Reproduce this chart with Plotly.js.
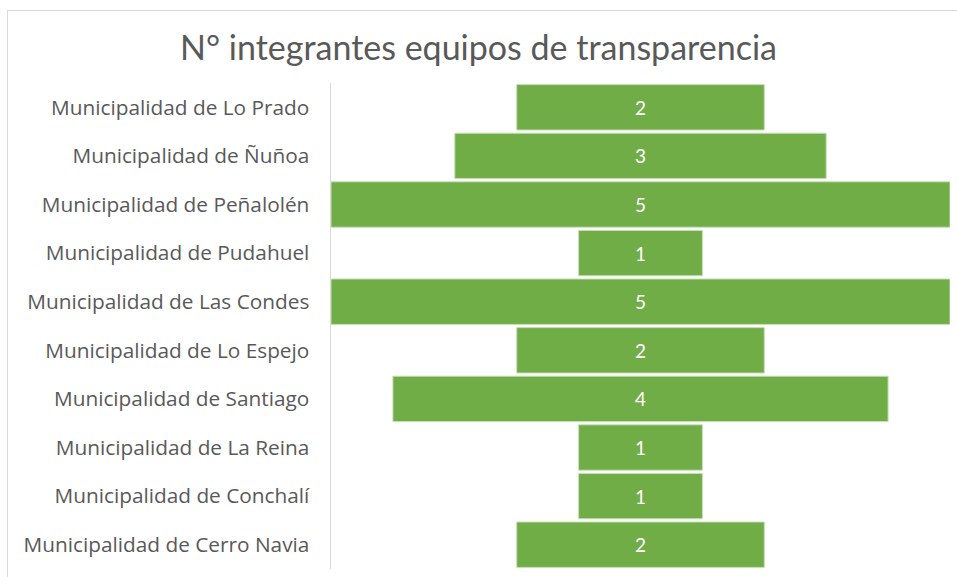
<!DOCTYPE html>
<html>
<head>
<meta charset="utf-8">
<script src="https://cdn.plot.ly/plotly-3.0.1.min.js"></script>
<style>
html,body{margin:0;padding:0;background:#fff;}
#frame{position:absolute;left:7px;top:10px;width:980px;height:600px;border:1px solid #d9d9d9;box-sizing:border-box;}
#chart{position:absolute;left:0;top:0;width:957px;height:577px;}
</style>
</head>
<body>
<div id="frame"></div>
<div id="chart"></div>
<script>
var categories = [
  "Municipalidad de Lo Prado",
  "Municipalidad de Ñuñoa",
  "Municipalidad de Peñalolén",
  "Municipalidad de Pudahuel",
  "Municipalidad de Las Condes",
  "Municipalidad de Lo Espejo",
  "Municipalidad de Santiago",
  "Municipalidad de La Reina",
  "Municipalidad de Conchalí",
  "Municipalidad de Cerro Navia"
];
var values = [2, 3, 5, 1, 5, 2, 4, 1, 1, 2];

var trace = {
  type: 'funnel',
  y: categories,
  x: values,
  orientation: 'h',
  marker: {color: '#70ad47', line: {color: '#c9e0b8', width: 1}},
  connector: {visible: false},
  textinfo: 'value',
  textposition: 'inside',
  insidetextanchor: 'middle',
  textfont: {color: '#ffffff', size: 19, family: 'Lato, sans-serif'},
  hoverinfo: 'skip'
};

var layout = {
  width: 957,
  height: 577,
  paper_bgcolor: 'rgba(0,0,0,0)',
  plot_bgcolor: 'rgba(0,0,0,0)',
  margin: {l: 331, r: 7, t: 83, b: 8, pad: 0},
  title: {
    text: 'N° integrantes equipos de transparencia',
    font: {family: 'Lato, sans-serif', size: 34, color: '#595959'},
    x: 0.5, xanchor: 'center',
    y: 1 - 48/577, yref: 'container', yanchor: 'middle'
  },
  funnelgap: 0.065,
  showlegend: false,
  xaxis: {visible: false, range: [-2.5, 2.5], fixedrange: true},
  yaxis: {
    type: 'category',
    autorange: 'reversed',
    showline: true, linecolor: '#d9d9d9', linewidth: 1.5,
    showgrid: false, zeroline: false,
    ticks: 'outside', ticklen: 16, tickcolor: 'rgba(0,0,0,0)',
    tickfont: {family: 'Open Sans, sans-serif', size: 20.8, color: '#595959'}
  }
};

Plotly.newPlot('chart', [trace], layout, {displayModeBar: false, staticPlot: true});
</script>
</body>
</html>
